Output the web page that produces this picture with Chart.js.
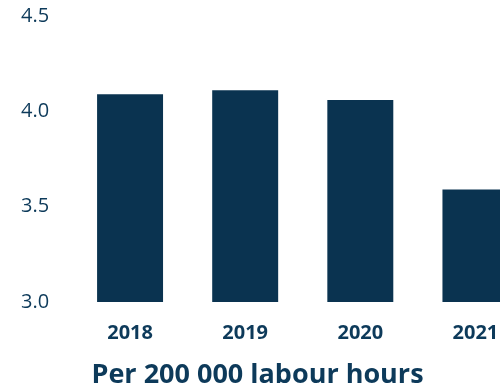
<!DOCTYPE html>
<html>
<head>
<meta charset="utf-8">
<script src="https://cdn.jsdelivr.net/npm/chart.js@4"></script>
<style>
  html, body { margin: 0; padding: 0; background: #fff; overflow: hidden; }
  #wrap { width: 533px; height: 388px; position: relative; }
</style>
</head>
<body>
<div id="wrap"><canvas id="chart"></canvas></div>
<script>
const years = ['2018', '2019', '2020', '2021'];
const rates = [4.09, 4.11, 4.06, 3.59];
const yTicks = [3.0, 3.5, 4.0, 4.5];
const caption = 'Per 200 000 labour hours';

const navy = '#0a3350';
const textColor = '#0d3a5a';

// caption sits under the visible part of the page, not the (wider) chart area
const captionPlugin = {
  id: 'caption',
  afterDraw(chart) {
    const ctx = chart.ctx;
    ctx.save();
    ctx.font = 'bold 27px "Open Sans"';
    ctx.fillStyle = textColor;
    ctx.textAlign = 'center';
    ctx.textBaseline = 'alphabetic';
    ctx.fillText(caption, 257.5, 383);
    ctx.restore();
  }
};

new Chart(document.getElementById('chart').getContext('2d'), {
  type: 'bar',
  data: {
    labels: years,
    datasets: [{ data: rates, backgroundColor: navy, borderWidth: 0, categoryPercentage: 1, barPercentage: 0.573 }]
  },
  options: {
    responsive: true,
    maintainAspectRatio: false,
    animation: false,
    layout: { padding: { left: 21, right: 0, top: 16, bottom: 0 } },
    plugins: { legend: { display: false }, tooltip: { enabled: false } },
    scales: {
      x: {
        grid: { display: false, drawTicks: false },
        border: { display: false },
        afterFit: s => { s.height = 86; },
        ticks: { color: textColor, padding: 19, font: { family: 'Open Sans', size: 20, weight: 'bold' } }
      },
      y: {
        min: 3, max: 4.5,
        grid: { display: false, drawTicks: false },
        border: { display: false },
        afterBuildTicks: s => { s.ticks = yTicks.map(v => ({ value: v })); },
        afterFit: s => { s.width = 51.5; },
        ticks: {
          color: textColor, crossAlign: 'far', padding: 0,
          font: { family: 'Open Sans', size: 20 },
          callback: v => Number(v).toFixed(1)
        }
      }
    }
  },
  plugins: [captionPlugin]
});
</script>
</body>
</html>
